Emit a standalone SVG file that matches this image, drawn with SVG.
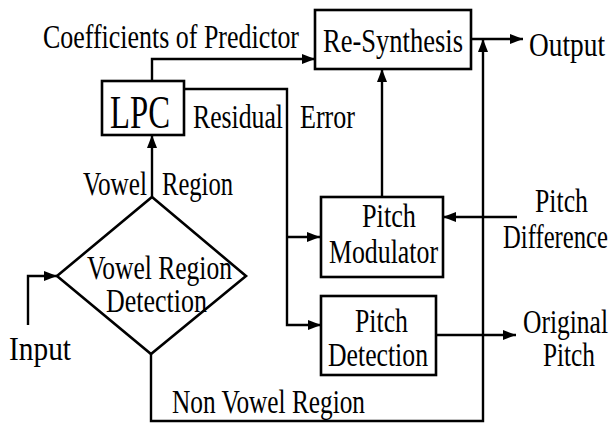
<svg xmlns="http://www.w3.org/2000/svg" width="612" height="424" viewBox="0 0 612 424">
<defs>
<marker id="ah" markerUnits="userSpaceOnUse" markerWidth="14" markerHeight="10" refX="13" refY="5" orient="auto">
<path d="M0,0 L13,5 L0,10 Z" fill="#000"/>
</marker>
<style>
.box{fill:none;stroke:#000;stroke-width:2.6}
.ln{fill:none;stroke:#000;stroke-width:2.4}
.t{font-family:'Liberation Serif','DejaVu Serif',serif;font-size:34px;fill:#000}
.big{font-size:46px}
</style>
</defs>
<rect width="612" height="424" fill="#fff"/>
<g id="connectors">
<polyline class="ln" points="152,81 152,59 315,59" marker-end="url(#ah)"/>
<polyline class="ln" points="184,89 287,89 287,325 321,325" marker-end="url(#ah)"/>
<line class="ln" x1="287" y1="237" x2="320" y2="237" marker-end="url(#ah)"/>
<line class="ln" x1="152" y1="197" x2="152" y2="135" marker-end="url(#ah)"/>
<polyline class="ln" points="28,325 28,276 57,276" marker-end="url(#ah)"/>
<polyline class="ln" points="151,354 151,421 483,421 483,39" marker-end="url(#ah)"/>
<line class="ln" x1="471" y1="39" x2="523" y2="39" marker-end="url(#ah)"/>
<line class="ln" x1="382" y1="197" x2="382" y2="69" marker-end="url(#ah)"/>
<line class="ln" x1="517" y1="217" x2="443" y2="217" marker-end="url(#ah)"/>
<line class="ln" x1="436" y1="335" x2="516" y2="335" marker-end="url(#ah)"/>
</g>
<g id="labels">
<text class="t" x="43" y="48" textLength="256" lengthAdjust="spacingAndGlyphs">Coefficients of Predictor</text>
<text class="t" x="529" y="56" textLength="76" lengthAdjust="spacingAndGlyphs">Output</text>
<text class="t" x="193" y="128" textLength="90" lengthAdjust="spacingAndGlyphs">Residual</text>
<text class="t" x="300" y="128" textLength="55" lengthAdjust="spacingAndGlyphs">Error</text>
<text class="t" x="83" y="195" textLength="64" lengthAdjust="spacingAndGlyphs">Vowel</text>
<text class="t" x="162" y="195" textLength="71" lengthAdjust="spacingAndGlyphs">Region</text>
<text class="t" x="9" y="360" textLength="62" lengthAdjust="spacingAndGlyphs">Input</text>
<text class="t" x="172" y="413" textLength="193" lengthAdjust="spacingAndGlyphs">Non Vowel Region</text>
<text class="t" x="535" y="212" textLength="53" lengthAdjust="spacingAndGlyphs">Pitch</text>
<text class="t" x="503" y="248" textLength="105" lengthAdjust="spacingAndGlyphs">Difference</text>
<text class="t" x="523" y="333" textLength="85" lengthAdjust="spacingAndGlyphs">Original</text>
<text class="t" x="543" y="366" textLength="52" lengthAdjust="spacingAndGlyphs">Pitch</text>
</g>
<g id="resynthesis">
<rect class="box" x="315" y="10" width="156" height="59"/>
<text class="t" x="323" y="52" textLength="140" lengthAdjust="spacingAndGlyphs">Re-Synthesis</text>
</g>
<g id="lpc">
<rect class="box" x="102" y="81" width="82" height="54"/>
<text class="t big" x="110" y="128" textLength="60" lengthAdjust="spacingAndGlyphs">LPC</text>
</g>
<g id="vowel-detection">
<polygon class="box" points="152,197 246,276 151,354 57,276"/>
<text class="t" x="87" y="279" textLength="145" lengthAdjust="spacingAndGlyphs">Vowel Region</text>
<text class="t" x="106" y="312" textLength="101" lengthAdjust="spacingAndGlyphs">Detection</text>
</g>
<g id="pitch-modulator">
<rect class="box" x="321" y="197" width="122" height="80"/>
<text class="t" x="362" y="227" textLength="54" lengthAdjust="spacingAndGlyphs">Pitch</text>
<text class="t" x="329" y="263" textLength="109" lengthAdjust="spacingAndGlyphs">Modulator</text>
</g>
<g id="pitch-detection">
<rect class="box" x="321" y="296" width="115" height="79"/>
<text class="t" x="355" y="332" textLength="53" lengthAdjust="spacingAndGlyphs">Pitch</text>
<text class="t" x="328" y="366" textLength="100" lengthAdjust="spacingAndGlyphs">Detection</text>
</g>
</svg>
